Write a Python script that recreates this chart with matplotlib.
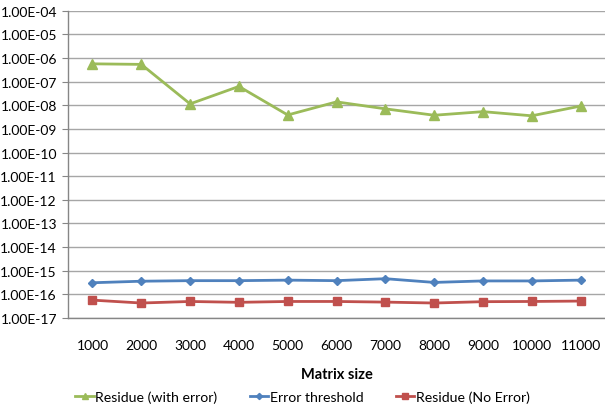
import numpy as np
import matplotlib
matplotlib.use('Agg')
import matplotlib.pyplot as plt
from matplotlib.ticker import FuncFormatter, LogLocator, NullLocator

plt.rcParams['font.family'] = ['Lato', 'DejaVu Sans']

# data
sizes = ['1000', '2000', '3000', '4000', '5000', '6000',
         '7000', '8000', '9000', '10000', '11000']
residue_err = [5.7e-7, 5.4e-7, 1.15e-8, 6.3e-8, 3.9e-9, 1.4e-8,
               7.1e-9, 3.8e-9, 5.4e-9, 3.6e-9, 9.3e-9]
threshold = [3.1e-16, 3.6e-16, 3.8e-16, 3.8e-16, 4.0e-16, 3.8e-16,
             4.6e-16, 3.2e-16, 3.7e-16, 3.7e-16, 4.0e-16]
residue_ok = [5.7e-17, 4.3e-17, 5.0e-17, 4.6e-17, 5.0e-17, 5.0e-17,
              4.7e-17, 4.3e-17, 4.9e-17, 5.0e-17, 5.2e-17]

green = '#9BBB59'
blue = '#4F81BD'
red = '#C0504D'
grid_col = '#a6a6a6'

fig = plt.figure(figsize=(6.05, 4.14), dpi=100)
ax = fig.add_axes([0.1125, 0.2295, 0.8875, 0.742])

x = np.arange(len(sizes))
ax.plot(x, residue_err, color=green, lw=2, marker='^', ms=6.5,
        label='Residue (with error)')
ax.plot(x, threshold, color=blue, lw=2, marker='D', ms=4.5,
        label='Error threshold')
ax.plot(x, residue_ok, color=red, lw=2, marker='s', ms=6,
        label='Residue (No Error)')

ax.set_yscale('log')
ax.set_ylim(1e-17, 1e-4)
ax.yaxis.set_major_locator(LogLocator(base=10, numticks=20))
ax.yaxis.set_minor_locator(NullLocator())
ax.yaxis.set_major_formatter(FuncFormatter(lambda v, p: f'{v:.2E}'))
ax.set_xlim(-0.5, len(sizes) - 0.5)
ax.set_xticks(x)
ax.set_xticklabels(sizes)

ax.grid(axis='y', color=grid_col, lw=1)
ax.set_axisbelow(True)
for s in ['top', 'right']:
    ax.spines[s].set_visible(False)
for s in ['left', 'bottom']:
    ax.spines[s].set_color('#868686')
    ax.spines[s].set_linewidth(1)
ax.tick_params(axis='y', length=4, color='#868686', labelsize=10, pad=4)
ax.tick_params(axis='x', length=0, labelsize=10, pad=15)

ax.set_xlabel('Matrix size', fontsize=10.5, fontweight='bold', labelpad=12)

fig.legend(loc='center', bbox_to_anchor=(0.5, 0.039), ncol=3, frameon=False,
           fontsize=10.2, handlelength=1.3, columnspacing=2.3,
           handletextpad=0.1, markerscale=0.7)

fig.savefig('out.png', dpi=100)
